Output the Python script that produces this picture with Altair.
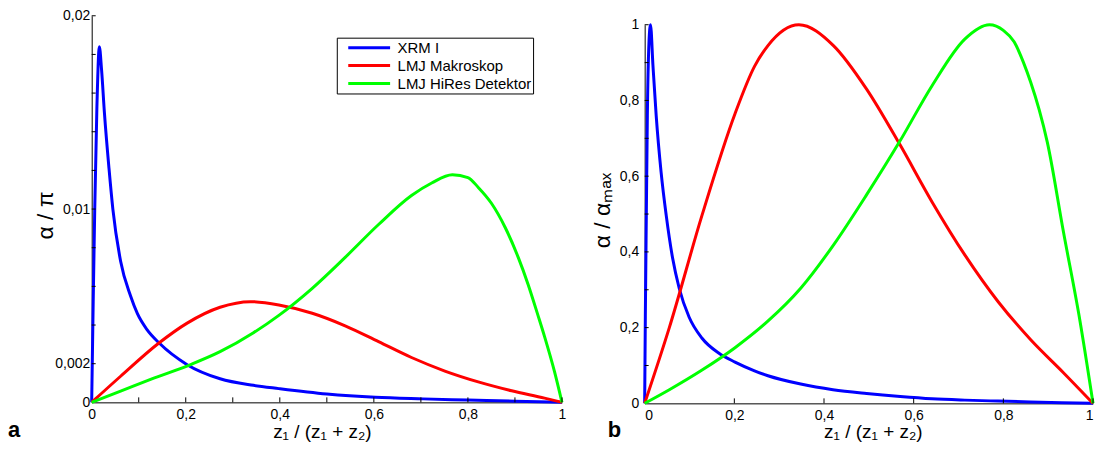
import altair as alt
import pandas as pd

FONT = "Liberation Sans"
SERIES = ["XRM I", "LMJ Makroskop", "LMJ HiRes Detektor"]
COLORS = ["#0000FF", "#FF0000", "#00FF00"]
PANEL_LABELS = ["a", "b"]

# ---------------- panel a : alpha / pi ----------------
A_BLUE_Z = [0, 0.0032, 0.0064, 0.011, 0.0163, 0.021, 0.027, 0.0368, 0.045, 0.0615,
            0.0827, 0.097, 0.118, 0.143, 0.203, 0.273, 0.344, 0.398, 0.5, 0.603, 0.705,
            0.8, 0.9, 1.0]
A_BLUE_V = [0, 0.0052, 0.0099, 0.0152, 0.0184, 0.0172, 0.0150, 0.0121, 0.0100, 0.0073,
            0.0055, 0.0046, 0.00375, 0.00308, 0.00195, 0.00122, 0.00088, 0.00071, 0.00043,
            0.00026, 0.00018, 0.00012, 0.00006, 0]

A_RED_Z = [0, 0.0615, 0.143, 0.203, 0.273, 0.337, 0.398, 0.469, 0.539, 0.61, 0.68,
           0.751, 0.822, 0.893, 0.963, 1.0]
A_RED_V = [0, 0.00135, 0.00307, 0.0041, 0.00492, 0.00521, 0.00504, 0.00461, 0.00396,
           0.00314, 0.00232, 0.00162, 0.00106, 0.0006, 0.00022, 0]

A_GREEN_Z = [0, 0.0615, 0.132, 0.213, 0.273, 0.344, 0.398, 0.469, 0.539, 0.61, 0.68,
             0.723, 0.767, 0.80, 0.822, 0.85, 0.879, 0.907, 0.928, 0.949, 0.963, 0.984, 1.0]
A_GREEN_V = [0, 0.00058, 0.00125, 0.00198, 0.00262, 0.0036, 0.0045, 0.0059, 0.0075,
             0.0092, 0.0107, 0.01135, 0.01177, 0.01163, 0.01112, 0.0103, 0.00906,
             0.0075, 0.0061, 0.0045, 0.0034, 0.0016, 0]

# ---------------- panel b : alpha / alpha_max ----------------
B_BLUE_Z = [0, 0.0015, 0.0037, 0.006, 0.0095, 0.013, 0.0185, 0.0257, 0.0367, 0.048,
            0.0624, 0.077, 0.099, 0.128, 0.165, 0.2015, 0.245, 0.275, 0.348, 0.42,
            0.495, 0.57, 0.641, 0.714, 0.788, 0.86, 0.93, 1.0]
B_BLUE_V = [0, 0.23, 0.497, 0.76, 0.95, 1.0, 0.892, 0.76, 0.61, 0.497, 0.383, 0.304,
            0.228, 0.172, 0.133, 0.109, 0.086, 0.073, 0.051, 0.036, 0.026, 0.018, 0.012,
            0.0085, 0.006, 0.0038, 0.0018, 0]

B_RED_Z = [0, 0.055, 0.128, 0.2015, 0.245, 0.275, 0.344, 0.421, 0.495, 0.568, 0.641,
           0.714, 0.788, 0.861, 0.934, 1.0]
B_RED_V = [0, 0.2, 0.497, 0.765, 0.89, 0.945, 1.0, 0.945, 0.83, 0.686, 0.532, 0.392,
           0.269, 0.168, 0.081, 0]

B_GREEN_Z = [0, 0.055, 0.128, 0.2015, 0.2747, 0.348, 0.421, 0.4945, 0.568, 0.641, 0.714,
             0.769, 0.80, 0.824, 0.845, 0.861, 0.88, 0.898, 0.934, 0.971, 1.0]
B_GREEN_V = [0, 0.036, 0.088, 0.147, 0.217, 0.304, 0.418, 0.55, 0.69, 0.839, 0.962,
             1.0, 0.985, 0.955, 0.90, 0.848, 0.775, 0.69, 0.453, 0.217, 0]

# tick positions and labels
A_X_TICKS = [0.1, 0.2, 0.3, 0.4, 0.5, 0.6, 0.7, 0.8, 0.9, 1.0]
A_X_LABELS = [0, 0.2, 0.4, 0.6, 0.8, 1]
A_Y_TICKS = [0.002, 0.004, 0.006, 0.008, 0.01, 0.012, 0.014, 0.016, 0.018, 0.02]
A_Y_LABELS = [0, 0.002, 0.01, 0.02]
B_X_TICKS = [0.2, 0.4, 0.6, 0.8, 1.0]
B_X_LABELS = [0, 0.2, 0.4, 0.6, 0.8, 1]
B_Y_TICKS = [0.1, 0.2, 0.3, 0.4, 0.5, 0.6, 0.7, 0.8, 0.9, 1.0]
B_Y_LABELS = [0, 0.2, 0.4, 0.6, 0.8, 1]

LABEL_EXPR = "replace(format(datum.value, '~g'), '.', ',')"


def long_frame(parts):
    rows = []
    for name, zs, vs in parts:
        for z, v in zip(zs, vs):
            rows.append({"series": name, "z": z, "v": v})
    return pd.DataFrame(rows)


def panel(df, W, H, ydom, yrange, xlabels, ylabels, xticks, yticks, ytitle, ytx, yty,
          xtx, xty, ylabpad, xflush, legend, letter, letter_x, letter_y, bound_rule):
    xs = alt.Scale(domain=[0, 1], nice=False, zero=False)
    ys = alt.Scale(domain=ydom, range=yrange, nice=False, zero=False)
    xaxis = alt.Axis(
        values=xlabels, labelExpr=LABEL_EXPR, ticks=False, tickSize=0,
        grid=False, domainColor="black", domainWidth=1, labelFlush=xflush,
        labelFontSize=14, labelColor="black", labelPadding=5, labelFont=FONT,
        title="z₁ / (z₁ + z₂)", titleFontSize=19, titleFontWeight="normal",
        titleColor="black", titleFont=FONT, titleX=xtx, titleY=xty,
        titleAlign="center", titleBaseline="alphabetic")
    yaxis = alt.Axis(
        values=ylabels, labelExpr=LABEL_EXPR, ticks=False, tickSize=0,
        grid=False, domainColor="black", domainWidth=1, labelFlush=False,
        labelFontSize=14, labelColor="black", labelPadding=ylabpad,
        labelFont=FONT, title=ytitle, titleFontSize=23,
        titleFontWeight="normal", titleColor="black", titleFont=FONT,
        titleAngle=270, titleX=ytx, titleY=yty, titleAlign="center",
        titleBaseline="middle")
    color = alt.Color("series:N", scale=alt.Scale(domain=SERIES, range=COLORS),
                      sort=SERIES, legend=legend)
    lines = alt.Chart(df).mark_line(strokeWidth=3, interpolate="monotone").encode(
        x=alt.X("z:Q", scale=xs, axis=xaxis),
        y=alt.Y("v:Q", scale=ys, axis=yaxis),
        color=color,
    )
    xt = alt.Chart(pd.DataFrame({"z": xticks})).mark_rule(
        color="black", strokeWidth=1).encode(
        x=alt.X("z:Q", scale=xs, axis=xaxis),
        y=alt.value(H), y2=alt.value(H - 5))
    yt = alt.Chart(pd.DataFrame({"v": yticks})).mark_rule(
        color="black", strokeWidth=1).encode(
        y=alt.Y("v:Q", scale=ys, axis=yaxis),
        x=alt.value(0), x2=alt.value(4))
    lab = alt.Chart(pd.DataFrame({"label": [letter]})).mark_text(
        align="left", baseline="alphabetic", fontSize=22, fontWeight="bold",
        font=FONT, color="black").encode(
        text="label:N", x=alt.value(letter_x), y=alt.value(letter_y))
    bnd = alt.Chart(pd.DataFrame({"k": [0]})).mark_rule(
        strokeOpacity=0, opacity=0).encode(
        x=alt.value(bound_rule), x2=alt.value(bound_rule),
        y=alt.value(100), y2=alt.value(101))
    return alt.layer(lines, xt, yt, lab, bnd).properties(width=W, height=H)


df_a = long_frame([(SERIES[0], A_BLUE_Z, A_BLUE_V),
                   (SERIES[1], A_RED_Z, A_RED_V),
                   (SERIES[2], A_GREEN_Z, A_GREEN_V)])
df_b = long_frame([(SERIES[0], B_BLUE_Z, B_BLUE_V),
                   (SERIES[1], B_RED_Z, B_RED_V),
                   (SERIES[2], B_GREEN_Z, B_GREEN_V)])

legend_a = alt.Legend(
    orient="none", legendX=246, legendY=22, title=None, symbolType="stroke",
    symbolStrokeWidth=3, symbolSize=1764, clipHeight=18, rowPadding=0,
    padding=1, symbolOffset=9, labelOffset=6, labelFontSize=15,
    labelFont=FONT, labelColor="black", labelLimit=300, strokeColor="black",
    fillColor="white", symbolOpacity=1, cornerRadius=0)

W1, H1 = 472, 388
W2, H2 = 450, 389

left = panel(df_a, W1, H1, [0, 0.02], [H1, 0], A_X_LABELS, A_Y_LABELS, A_X_TICKS,
             A_Y_TICKS, "α / π", -46, 200, 231, 35, 2, False, legend_a,
             PANEL_LABELS[0], -84, 423, W1 + 6)
right = panel(df_b, W2, H2, [0, 1], [H2, 9], B_X_LABELS, B_Y_LABELS, B_X_TICKS,
              B_Y_TICKS, "α / αₘₐₓ", -42, 195, 229, 34, 6, True, None,
              PANEL_LABELS[1], -37, 423, -68.5)

chart = alt.hconcat(left, right, spacing=8).resolve_scale(
    color="independent").properties(padding=0).configure_view(stroke=None)

chart.save("out.html", embed_options={"renderer": "svg", "actions": False})
